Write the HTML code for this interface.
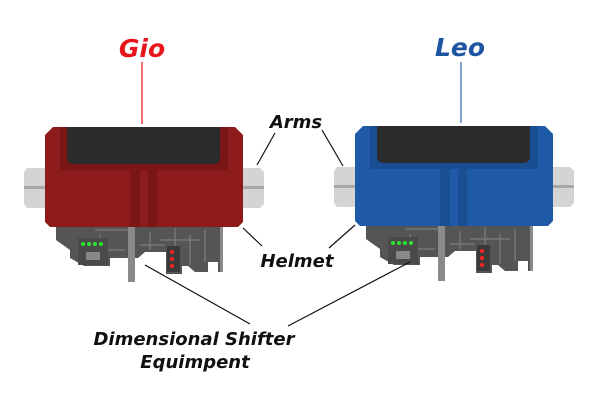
<!DOCTYPE html>
<html><head><meta charset="utf-8"><style>
html,body{margin:0;padding:0;background:#fff;}
svg{display:block;}
text{font-family:"DejaVu Sans","Liberation Sans",sans-serif;font-weight:bold;font-style:italic;}
</style></head><body>
<svg width="602" height="406" viewBox="0 0 602 406" xmlns="http://www.w3.org/2000/svg">
<defs>
<g id="gear">
  <path d="M27,168 H45 V208 H27 L24,204 V172 Z" fill="#d4d4d4"/>
  <rect x="24" y="186" width="21" height="3" fill="#a8a8a8"/>
  <path d="M243,168 H260 L264,172 V204 L260,208 H243 Z" fill="#d4d4d4"/>
  <rect x="243" y="186" width="21" height="3" fill="#a8a8a8"/>
  <path d="M56,227 H222 V272 H218 V262 H208 V272 H195 L188,266 H182 V274 H166 V252 H145 L138,258 H110 V266 H84 L70,258 V250 L56,240 Z" fill="#555"/>
  <path d="M95,230 H130 M100,235 V250 H125 M150,232 V250 M160,240 H200 M175,228 V262 M190,235 V265 M205,230 V262 M140,245 H165" stroke="#777" stroke-width="1.5" fill="none"/>
  <rect x="78" y="238" width="30" height="27" fill="#4a4a4a"/>
  <circle cx="83" cy="244" r="2" fill="#2be82b"/>
  <circle cx="89" cy="244" r="2" fill="#2be82b"/>
  <circle cx="95" cy="244" r="2" fill="#2be82b"/>
  <circle cx="101" cy="244" r="2" fill="#2be82b"/>
  <rect x="86" y="252" width="14" height="8" fill="#888"/>
  <rect x="167" y="246" width="13" height="26" fill="#3a3a3a"/>
  <circle cx="172" cy="252" r="2" fill="#ff2020"/>
  <circle cx="172" cy="259" r="2" fill="#ff2020"/>
  <circle cx="172" cy="266" r="2" fill="#ff2020"/>
  <rect x="128" y="227" width="7" height="55" fill="#8a8a8a"/>
  <rect x="220" y="227" width="3" height="45" fill="#8a8a8a"/>
</g>
</defs>

<use href="#gear"/>
<path d="M53,127 H235 L243,135 V222 L238,227 H50 L45,222 V135 Z" fill="#8e1b1b"/>
<rect x="60" y="127" width="168" height="43" fill="#7a1616"/>
<path d="M67,127 H220 V157 Q220,164 213,164 H74 Q67,164 67,157 Z" fill="#2b2b2b"/>
<rect x="130" y="170" width="27" height="57" fill="#7a1616"/>
<rect x="140" y="170" width="8" height="57" fill="#8e1b1b"/>
<line x1="142" y1="62" x2="142" y2="124" stroke="#e11" stroke-width="1.2"/>
<text x="142" y="57" font-size="25" fill="#e8141c" text-anchor="middle">Gio</text>

<g transform="translate(310,-1)">
<use href="#gear"/>
<path d="M53,127 H235 L243,135 V222 L238,227 H50 L45,222 V135 Z" fill="#1f5aa6"/>
<rect x="60" y="127" width="168" height="43" fill="#1a4e92"/>
<path d="M67,127 H220 V157 Q220,164 213,164 H74 Q67,164 67,157 Z" fill="#2b2b2b"/>
<rect x="130" y="170" width="27" height="57" fill="#1a4e92"/>
<rect x="140" y="170" width="8" height="57" fill="#1f5aa6"/>
<line x1="151" y1="63" x2="151" y2="124" stroke="#2f65b0" stroke-width="1.2"/>
</g>
<text x="460" y="56" font-size="25" fill="#1e55a0" text-anchor="middle">Leo</text>

<g stroke="#111" stroke-width="1.2">
<line x1="275" y1="133" x2="257" y2="165"/>
<line x1="322" y1="130" x2="343" y2="166"/>
<line x1="243" y1="228" x2="262" y2="246"/>
<line x1="355" y1="225" x2="329" y2="248"/>
<line x1="145" y1="265" x2="250" y2="324"/>
<line x1="410" y1="262" x2="288" y2="326"/>
</g>
<text x="296" y="128" font-size="18" fill="#111" text-anchor="middle">Arms</text>
<text x="297" y="267" font-size="18" fill="#111" text-anchor="middle">Helmet</text>
<text x="194" y="345" font-size="18" fill="#111" text-anchor="middle">Dimensional Shifter</text>
<text x="195" y="368" font-size="18" fill="#111" text-anchor="middle">Equimpent</text>
</svg>
</body></html>
